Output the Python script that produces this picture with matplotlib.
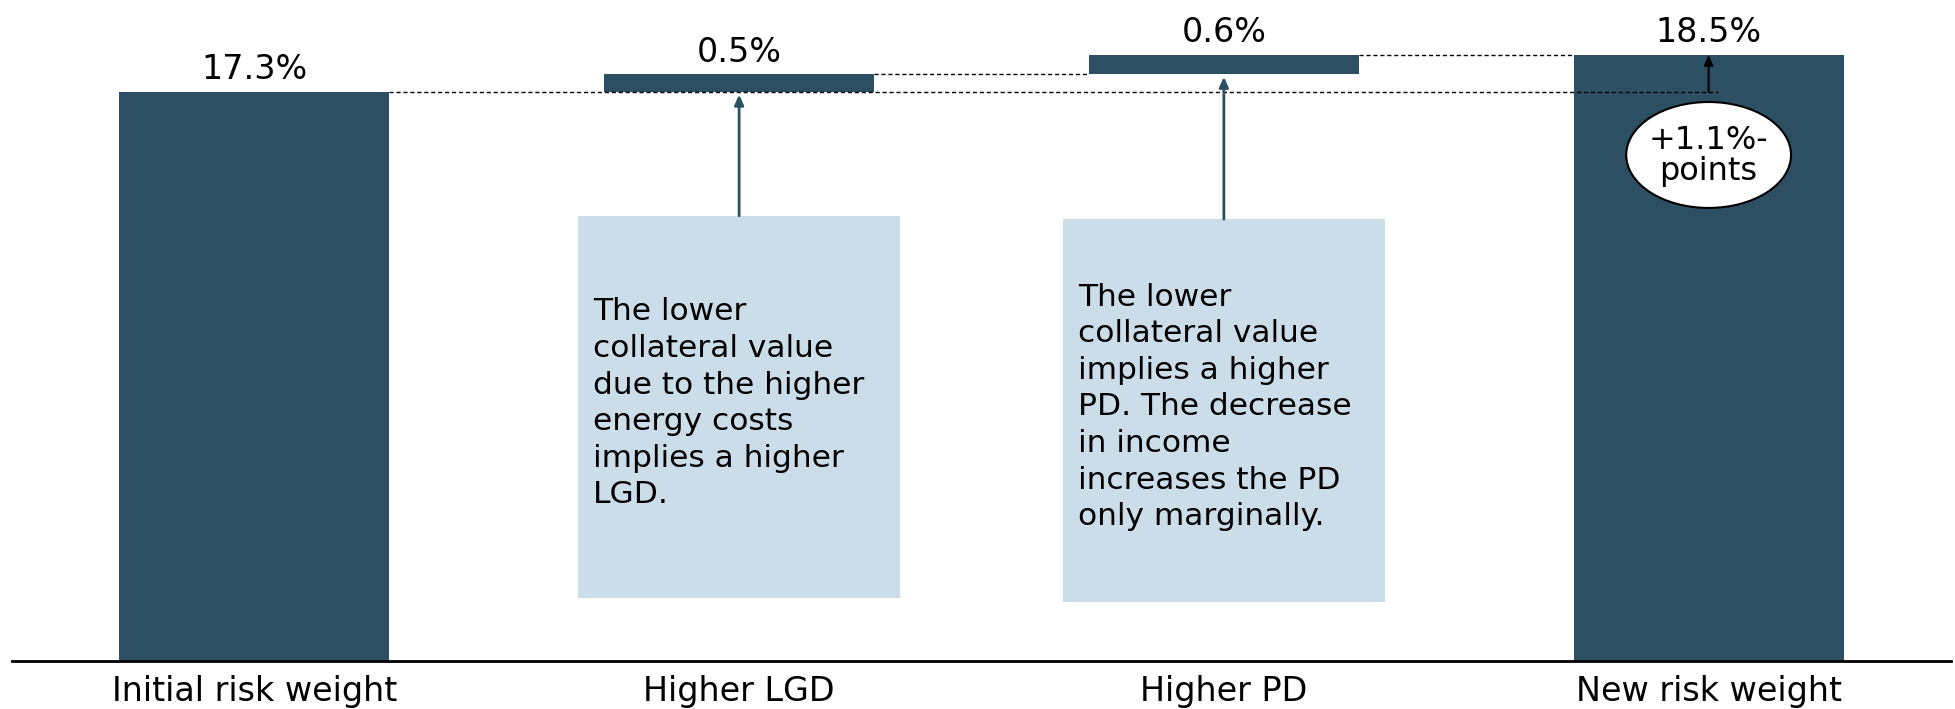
import numpy as np
import matplotlib
matplotlib.use('Agg')
from matplotlib import pyplot as plt
from matplotlib.patches import Ellipse, Rectangle

categories = ['Initial risk weight', 'Higher LGD', 'Higher PD', 'New risk weight']
values = [17.3, 0.54, 0.58, 18.42]
value_labels = ['17.3%', '0.5%', '0.6%', '18.5%']
is_total = [True, False, False, True]
notes = ['The lower\ncollateral value\ndue to the higher\nenergy costs\nimplies a higher\nLGD.',
         'The lower\ncollateral value\nimplies a higher\nPD. The decrease\nin income\nincreases the PD\nonly marginally.']
change_label = '+1.1%-\npoints'

bar_color = '#2c4f64'
box_color = '#cbdde9'
bar_w = 0.557
box_w = 0.664

# waterfall bottoms
positions = np.arange(len(categories))
bottoms = []
running = 0
for v, total in zip(values, is_total):
    if total:
        bottoms.append(0)
        running = v
    else:
        bottoms.append(running)
        running += v
tops = [b + v for b, v in zip(bottoms, values)]

fig = plt.figure(figsize=(19.55, 7.09), dpi=100)
ax = fig.add_axes([12 / 1955, 48 / 709, 1939 / 1955, 661 / 709])
ax.set_xlim(-0.5, 3.5)
ax.set_ylim(0, 20.09)

ax.bar(positions, values, bottom=bottoms, width=bar_w, color=bar_color, zorder=2)

for x, top, lab in zip(positions, tops, value_labels):
    ax.annotate(lab, (x, top), xytext=(0, 9), textcoords='offset points',
                ha='center', va='baseline', fontsize=24)

# dashed connectors
dash = dict(color='black', lw=1, ls=(0, (3, 2)), zorder=3)
ax.plot([positions[0] + bar_w / 2, positions[3] + 0.02], [tops[0]] * 2, **dash)
ax.plot([positions[1] + bar_w / 2, positions[2] - bar_w / 2], [tops[1]] * 2, **dash)
ax.plot([positions[2] + bar_w / 2, positions[3] - bar_w / 2], [tops[2]] * 2, **dash)

# explanation boxes
box_top = [13.53, 13.43]
box_bottom = [1.91, 1.79]
text_top = [11.05, 11.5]
for i, note in enumerate(notes):
    x = positions[i + 1]
    ax.add_patch(Rectangle((x - box_w / 2, box_bottom[i]), box_w, box_top[i] - box_bottom[i],
                           facecolor=box_color, edgecolor='none', zorder=1))
    ax.annotate('', xy=(x, bottoms[i + 1]), xytext=(x, box_top[i]),
                arrowprops=dict(arrowstyle='-|>,head_length=0.6,head_width=0.27',
                                color=bar_color, lw=2, shrinkA=0, shrinkB=2))
    ax.text(x - box_w / 2 + 0.031, text_top[i], note, fontsize=22.5, va='top', ha='left',
            linespacing=1.33)

# total change marker
ax.annotate('', xy=(positions[3], tops[3]), xytext=(positions[3], tops[0]),
            arrowprops=dict(arrowstyle='-|>,head_length=0.6,head_width=0.27',
                            color='black', lw=1.5, shrinkA=0, shrinkB=0), zorder=4)
ax.add_patch(Ellipse((positions[3], 15.38), 0.34, 3.22, facecolor='white',
                     edgecolor='black', lw=1.5, zorder=4))
ax.text(positions[3], 15.35, change_label, ha='center', va='center', fontsize=23,
        linespacing=1.0, zorder=5)

ax.set_xticks(positions, categories, fontsize=24)
ax.tick_params(axis='x', length=0, pad=10)
ax.set_yticks([])
for s in ['top', 'left', 'right']:
    ax.spines[s].set_visible(False)
ax.spines['bottom'].set_linewidth(2)

fig.savefig('out.png', dpi=100)
